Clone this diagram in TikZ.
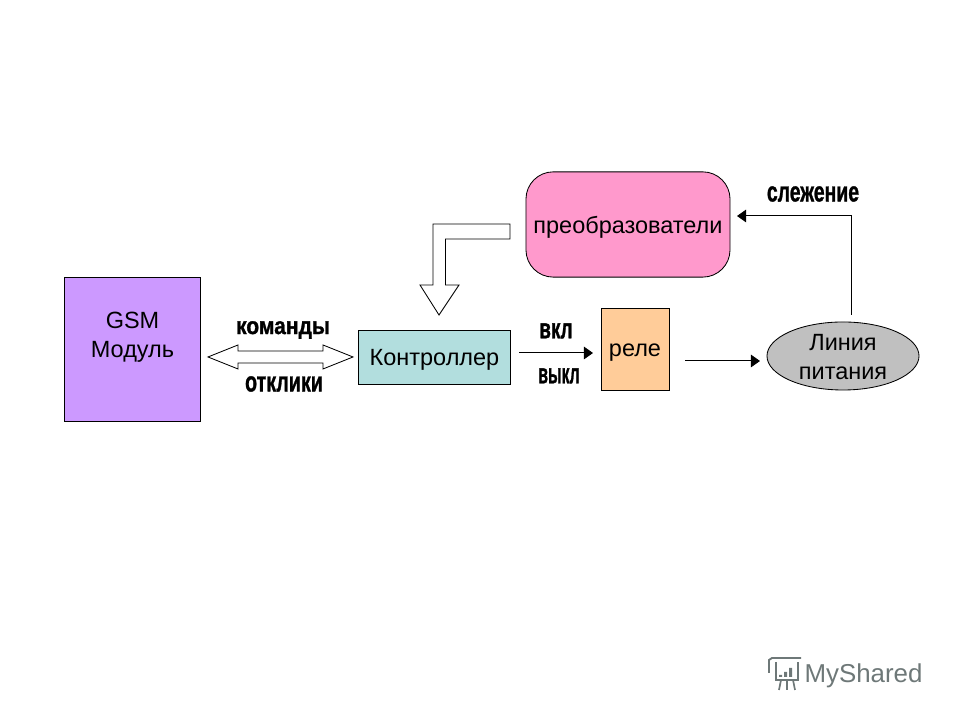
\documentclass[tikz,border=0pt]{standalone}
\usepackage{fontspec}
\setmainfont{Liberation Sans}[BoldFeatures={FakeBold=1.3}]
\usetikzlibrary{shapes.geometric}
\usetikzlibrary{arrows.meta}
\definecolor{gsmfill}{RGB}{204,153,255}
\definecolor{ctrlfill}{RGB}{178,222,222}
\definecolor{relayfill}{RGB}{255,204,153}
\definecolor{convfill}{RGB}{255,153,204}
\definecolor{linefill}{RGB}{192,192,192}
\definecolor{markgray}{RGB}{110,120,120}
\newcommand{\signaltext}[2]{\scalebox{#1}[1]{#2}}
\tikzset{
	blockbox/.style={draw=black, line width=0.6pt, align=center, inner sep=0pt, text depth=0pt, font=\fontsize{16.7}{20.5}\selectfont},
	signal/.style={font=\bfseries\fontsize{20}{22}\selectfont, inner sep=0pt},
	thinarrow/.style={draw=black, line width=0.7pt, -{Triangle[length=6.5pt,width=9pt]}},
	hollow/.style={draw=black, line width=0.6pt, fill=white, line join=miter},
}
\begin{document}
\begin{tikzpicture}[x=0.025cm, y=0.025cm]
	\useasboundingbox (0,0) rectangle (960,720);
	% blocks
	\node[draw=black, line width=0.6pt, fill=gsmfill, minimum width=3.38cm, minimum height=3.58cm,
		label={[align=center, yshift=0.31cm, font=\fontsize{16.7}{20.5}\selectfont]center:GSM\\Модуль}] (gsm) at (132.5,370.5) {};
	\node[blockbox, fill=ctrlfill, minimum width=3.78cm, minimum height=1.35cm] (ctrl) at (434.5,363) {Контроллер};
	\node[blockbox, fill=relayfill, minimum width=1.7cm, minimum height=2.05cm,
		label={[font=\fontsize{16.7}{20.5}\selectfont, yshift=-0.1cm]center:реле}] (relay) at (635,371) {};
	\node[blockbox, fill=convfill, rounded corners=0.68cm, minimum width=5.1cm, minimum height=2.63cm] (conv) at (628,495.5) {преобразователи};
	\node[blockbox, ellipse, fill=linefill, minimum width=3.8cm, minimum height=1.7cm,
		label={[align=center, yshift=-0.02cm, font=\fontsize{16.7}{20.5}\selectfont]center:Линия\\питания}] (power) at (843,364) {};
	% free ends of the thin arrows
	\coordinate (relayin) at (593,367);
	\coordinate (ctrlout) at (519,367);
	\coordinate (relayout) at (685,359);
	\coordinate (powerin) at (760,359);
	\coordinate (trackstart) at (851,405);
	\coordinate (trackend) at (737,504);
	\draw[thinarrow] (ctrlout) -- (relayin);
	\draw[thinarrow] (relayout) -- (powerin);
	\draw[thinarrow] (trackstart) |- (trackend);
	% hollow arrows
	\draw[hollow] (208,363) -- (238,375) -- (238,369) -- (323,369) -- (323,375) -- (353,363)
		-- (323,351) -- (323,357) -- (238,357) -- (238,351) -- cycle;
	\draw[hollow] (510,496) -- (433,496) -- (433,435) -- (420,435) -- (439,405) -- (459,435)
		-- (445.5,435) -- (445.5,481) -- (510,481) -- cycle;
	% labels
	\node[signal, font=\bfseries\fontsize{17}{19}\selectfont] (cmd) at (283,390) {\signaltext{0.88}{команды}};
	\node[signal] (resp) at (284,336) {\signaltext{0.7}{отклики}};
	\node[signal] (on) at (556,389) {\signaltext{0.67}{вкл}};
	\node[signal] (off) at (559,344) {\signaltext{0.56}{выкл}};
	\node[signal] (track) at (813,526) {\signaltext{0.69}{слежение}};
	% watermark
	\node[text=markgray, font=\fontsize{18.4}{22}\selectfont, inner sep=0pt] (mark) at (863.5,44) {MyShared};
	\draw[markgray, line width=1.1pt] (776,58) -- (776,40) -- (798,40) -- (798,58);
	\draw[markgray, line width=1.3pt] (769,47) -- (769,60) -- (772,62) -- (801,62);
	\draw[markgray, line width=1.2pt] (781,40) -- (779,30) (787,40) -- (787,30) (793,40) -- (795,30);
	\fill[markgray] (779,43) rectangle (782,45) (784,43) rectangle (787,48) (789,43) rectangle (792,52);
\end{tikzpicture}
\end{document}
